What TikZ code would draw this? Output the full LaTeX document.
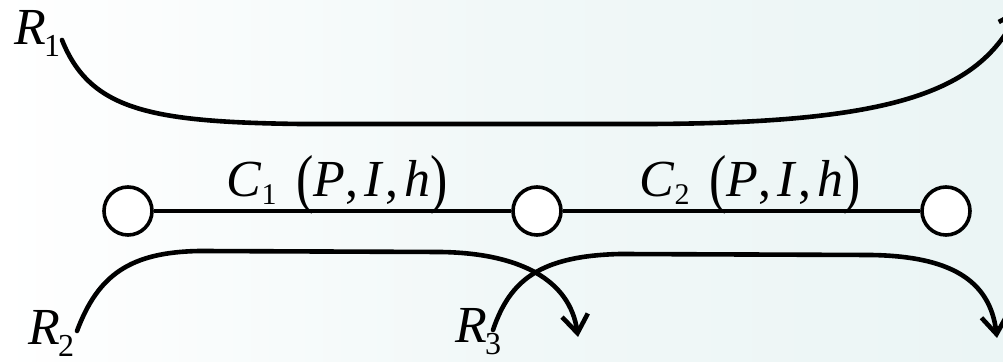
\documentclass[tikz,border=0pt]{standalone}
\usepackage{fontspec}
\setmainfont{Liberation Serif}
\usepackage{graphicx}
\usetikzlibrary{arrows.meta}
\definecolor{rtbg}{HTML}{EBF5F5}
\definecolor{rtink}{HTML}{000000}

\newcommand{\rsub}[2]{\textit{#1}\kern-1pt\raisebox{-6pt}{\fontsize{16}{16}\selectfont #2}}
\newcommand{\tallpar}[1]{\raisebox{-2pt}{\scalebox{1}[1.25]{#1}}}
\newcommand{\clabel}[1]{\textit{C}\raisebox{-4pt}{\fontsize{15}{15}\selectfont #1}\hspace{10pt}\tallpar{(}\textit{P},\hspace{3pt}\textit{I}\hspace{1pt},\hspace{3pt}\textit{h}\tallpar{)}}

\begin{document}
\begin{tikzpicture}[x=0.5pt,y=-0.5pt,
  vtx/.style={circle,draw=rtink,fill=white,line width=1.8pt,minimum size=24pt,inner sep=0pt},
  rlab/.style={font=\fontsize{26}{28}\selectfont,inner sep=0pt,anchor=base west},
  route/.style={draw=rtink,line width=2.3pt,line cap=round,line join=round,
    -{Straight Barb[length=9pt,width=13pt]}},
  link/.style={draw=rtink,line width=1.6pt}]
  \useasboundingbox (0,0) rectangle (1003,362);
  \clip (0,0) rectangle (1003,362);
  \shade[left color=white,right color=rtbg,middle color=rtbg!70] (0,0) rectangle (1003,362);
  % labels
  \node[rlab] (r1) at (14,45) {\rsub{R}{1}};
  \node[rlab] (r2) at (28,345) {\rsub{R}{2}};
  \node[rlab] (r3) at (455,343) {\rsub{R}{3}};
  \node[rlab] (c1) at (226,197) {\clabel{1}};
  \node[rlab] (c2) at (639,197) {\clabel{2}};
  % nodes of the line
  \node[vtx] (n1) at (128,211) {};
  \node[vtx] (n2) at (537,211) {};
  \node[vtx] (n3) at (946,211) {};
  \draw[link] (n1) -- (n2) (n2) -- (n3);
  % routes
  \coordinate (s1) at (62,40);   \coordinate (t1) at (1020,8);
  \coordinate (s2) at (77,331);  \coordinate (t2) at (578,337);
  \coordinate (s3) at (493,330); \coordinate (t3) at (997,338);
  \draw[route] (s1) .. controls (90,110) and (150,122) .. (300,124) -- (650,124)
    .. controls (900,123) and (980,90) .. (t1);
  \draw[route] (s2) .. controls (98,275) and (130,252) .. (200,251) -- (440,252)
    .. controls (520,253) and (570,280) .. (t2);
  \draw[route] (s3) .. controls (510,280) and (540,256) .. (620,254) -- (870,255)
    .. controls (950,256) and (990,280) .. (t3);
\end{tikzpicture}
\end{document}
